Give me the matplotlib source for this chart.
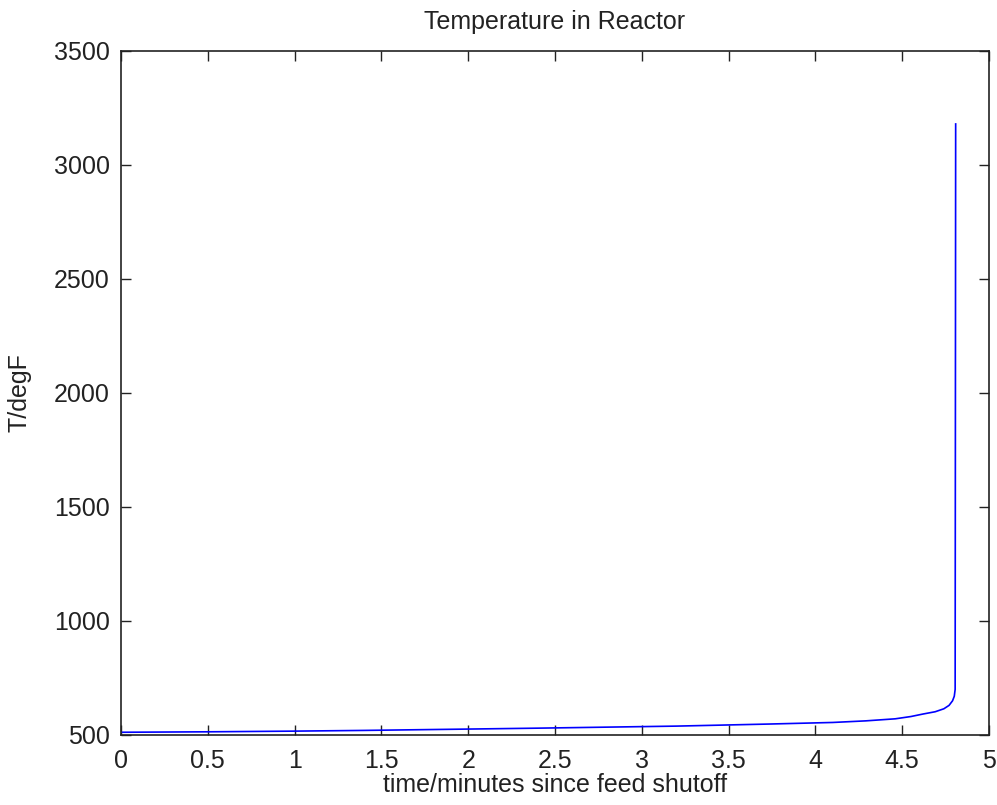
import matplotlib
matplotlib.use("Agg")
import matplotlib.pyplot as plt

# Data
time_min = [0.0, 0.5, 1.0, 1.39, 2.0, 2.4, 3.2, 3.73, 4.1, 4.29, 4.46, 4.55, 4.62,
            4.69, 4.74, 4.77, 4.79, 4.80, 4.805, 4.808]
temp_F = [512, 514, 517, 520, 526, 530, 539, 548, 555, 562, 571, 581, 592,
          602, 615, 630, 650, 670, 700, 3180]
x_ticks = [0, 0.5, 1, 1.5, 2, 2.5, 3, 3.5, 4, 4.5, 5]
x_tick_labels = ["0", "0.5", "1", "1.5", "2", "2.5", "3", "3.5", "4", "4.5", "5"]
y_ticks = [500, 1000, 1500, 2000, 2500, 3000, 3500]

plt.rcParams['font.family'] = ['Liberation Sans', 'DejaVu Sans']
fs = 18
tc = '#222222'

fig = plt.figure(figsize=(9.97, 8.05), dpi=100)
ax = fig.add_axes([121/997, 1 - 735/805, (989 - 121)/997, (735 - 51)/805])
ax.plot(time_min, temp_F, color=(0, 0, 1), linewidth=1.2)
ax.set_xlim(0, 5)
ax.set_ylim(500, 3500)
ax.set_xticks(x_ticks)
ax.set_xticklabels(x_tick_labels)
ax.set_yticks(y_ticks)
ax.tick_params(direction='in', length=7, width=1, top=True, right=True,
               labelsize=fs, colors=tc)
ax.tick_params(axis='x', pad=10)
ax.tick_params(axis='y', pad=8)
for s in ax.spines.values():
    s.set_linewidth(1.2)
    s.set_color(tc)
ax.set_title("Temperature in Reactor", fontsize=fs, pad=16, color=tc)
ax.set_xlabel("time/minutes since feed shutoff", fontsize=fs, labelpad=0, color=tc)
ax.set_ylabel("T/degF", fontsize=fs, labelpad=16, color=tc)

fig.savefig("out.png", dpi=100)
